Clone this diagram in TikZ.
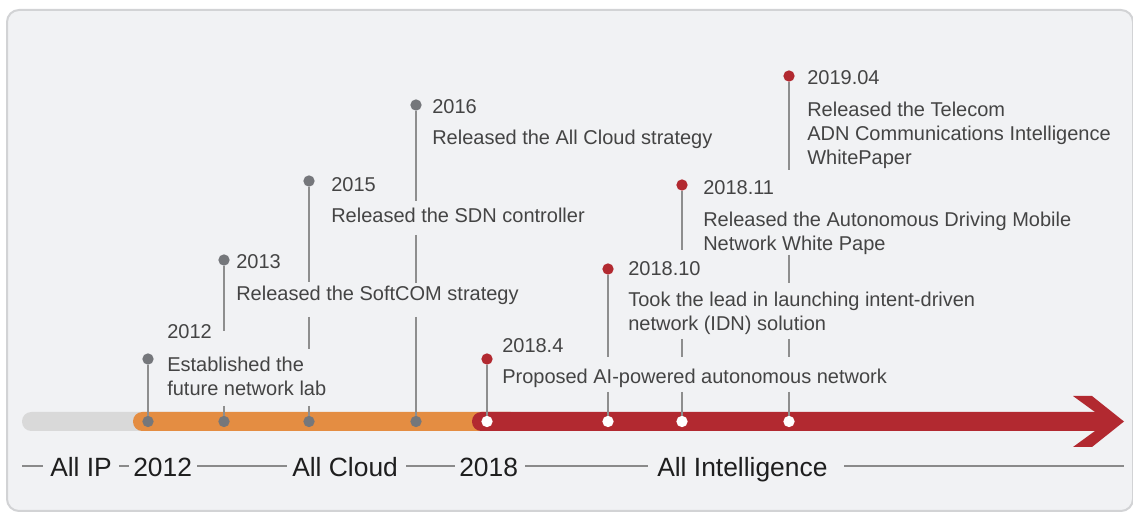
\documentclass[tikz,border=0pt]{standalone}
\usepackage{fontspec}
\setmainfont{Liberation Sans}
\definecolor{cardbg}{HTML}{F1F2F4}
\definecolor{cardline}{HTML}{D2D3D5}
\definecolor{txt}{HTML}{444444}
\definecolor{lbl}{HTML}{1E1E1E}
\definecolor{barGray}{HTML}{D9D9D9}
\definecolor{barOrange}{HTML}{E48D42}
\definecolor{barRed}{HTML}{B22930}
\definecolor{dotGray}{HTML}{75777B}
\definecolor{stemGray}{HTML}{8E8E8E}
\definecolor{ruleGray}{HTML}{8A8A8A}
\begin{document}
\begin{tikzpicture}[x=0.75pt,y=-0.75pt,
  year/.style={anchor=base west,inner sep=0pt,text=txt,font=\fontsize{15}{18.2}\selectfont},
  desc/.style={anchor=north west,inner sep=0pt,text=txt,align=left,font=\fontsize{15}{18.2}\selectfont},
  descline/.style={anchor=base west,inner sep=0pt,text=txt,font=\fontsize{15}{18.2}\selectfont},
  era/.style={anchor=base west,inner sep=0pt,text=lbl,font=\fontsize{19.8}{22}\selectfont},
  gdot/.style={circle,fill=dotGray,inner sep=0pt,minimum size=8.5pt},
  rdot/.style={circle,fill=barRed,inner sep=0pt,minimum size=8.5pt},
  wdot/.style={circle,fill=white,inner sep=0pt,minimum size=8.5pt},
  stem/.style={draw=stemGray,line width=1pt},
  ruleline/.style={draw=ruleGray,line width=0.8pt}]
\useasboundingbox (0,0) rectangle (1133,513);
% card
\draw[fill=cardbg,draw=cardline,line width=1.5pt,rounded corners=9pt] (7,10) rectangle (1133,511);
% bars
\fill[barGray,rounded corners=7pt] (22,412) rectangle (200,431);
\fill[barOrange,rounded corners=7pt] (133,412) rectangle (520,431);
\fill[barRed,rounded corners=7pt] (472,412) rectangle (1110,431);
\fill[barRed] (1073,396) -- (1092,396) -- (1124,421.5) -- (1092,447) -- (1073,447) -- (1108,421.5) -- cycle;
% bar dots
\node[gdot] (b2012) at (148,421.5) {};
\node[gdot] (b2013) at (224,421.5) {};
\node[gdot] (b2015) at (309,421.5) {};
\node[gdot] (b2016) at (416,421.5) {};
\node[wdot] (b20184) at (487,421.5) {};
\node[wdot] (b201810) at (608,421.5) {};
\node[wdot] (b201811) at (682,421.5) {};
\node[wdot] (b201904) at (789,421.5) {};
% top dots
\node[gdot] (t2012) at (148,359) {};
\node[gdot] (t2013) at (224,260) {};
\node[gdot] (t2015) at (309,181) {};
\node[gdot] (t2016) at (416,105) {};
\node[rdot] (t20184) at (487,359) {};
\node[rdot] (t201810) at (608,269) {};
\node[rdot] (t201811) at (682,185) {};
\node[rdot] (t201904) at (789,76) {};
% stems
\draw[stem] (t2012) -- (b2012);
\draw[stem] (t2013) -- (224,331) (224,406) -- (b2013);
\draw[stem] (t2015) -- (309,282) (309,317) -- (309,349) (309,406) -- (b2015);
\draw[stem] (t2016) -- (416,201) (416,235) -- (416,283) (416,317) -- (b2016);
\draw[stem] (t20184) -- (b20184);
\draw[stem] (t201810) -- (608,357) (608,392) -- (b201810);
\draw[stem] (t201811) -- (682,250) (682,339) -- (682,357) (682,392) -- (b201811);
\draw[stem] (t201904) -- (789,170) (789,255) -- (789,283) (789,339) -- (789,357) (789,392) -- (b201904);
% texts
\node[year] (y2012) at (167,339) {2012};
\node[desc] (d2012) at (167,356.7) {Established the\\future network lab};
\node[year] (y2013) at (236,269) {2013};
\node[descline] (d2013) at (236,301) {Released the SoftCOM strategy};
\node[year] (y2015) at (331,192) {2015};
\node[descline] (d2015) at (331,223) {Released the SDN controller};
\node[year] (y2016) at (432,114) {2016};
\node[descline] (d2016) at (432,145) {Released the All Cloud strategy};
\node[year] (y20184) at (502,353) {2018.4};
\node[descline] (d20184) at (502,384) {Proposed AI-powered autonomous network};
\node[year] (y201810) at (628,276) {2018.10};
\node[desc] (d201810) at (628,291.7) {Took the lead in launching intent-driven\\network (IDN) solution};
\node[year] (y201811) at (703,195) {2018.11};
\node[desc] (d201811) at (703,211.7) {Released the Autonomous Driving Mobile\\Network White Pape};
\node[year] (y201904) at (807,85) {2019.04};
\node[desc] (d201904) at (807,101.7) {Released the Telecom\\ADN Communications Intelligence\\WhitePaper};
% eras
\node[era] (eIP) at (50,477) {All IP};
\node[era] (e2012) at (133,477) {2012};
\node[era] (eCloud) at (292,477) {All Cloud};
\node[era] (e2018) at (459,477) {2018};
\node[era] (eAI) at (657,477) {All Intelligence};
\draw[ruleline] (22,466) -- (43,466);
\draw[ruleline] (119,466) -- (129,466);
\draw[ruleline] (197,466) -- (287,466);
\draw[ruleline] (406,466) -- (455,466);
\draw[ruleline] (525,466) -- (648,466);
\draw[ruleline] (844,466) -- (1124,466);
\end{tikzpicture}
\end{document}
